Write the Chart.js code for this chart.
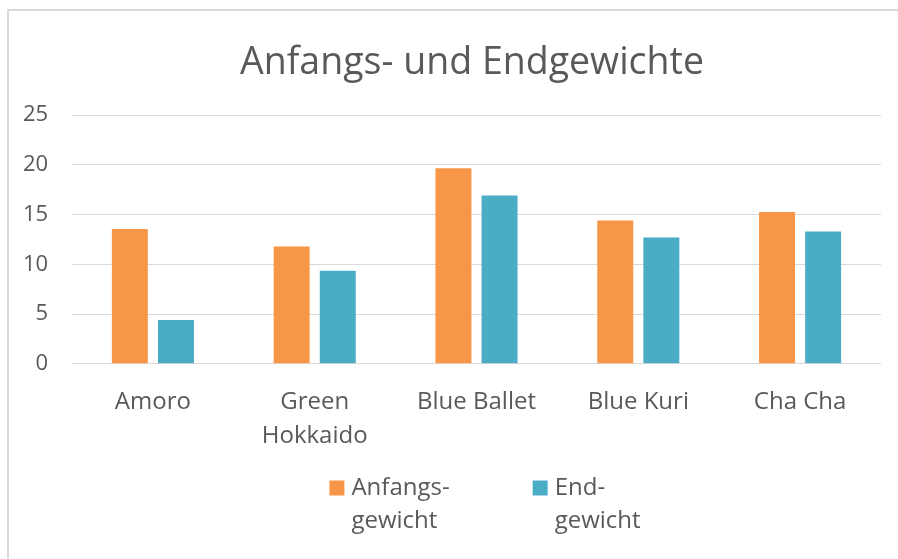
<!DOCTYPE html>
<html>
<head>
<meta charset="utf-8">
<script src="https://cdn.jsdelivr.net/npm/chart.js@4/dist/chart.umd.min.js"></script>
<style>
  html, body { margin: 0; padding: 0; background: #fff; overflow: hidden; }
  #wrap { position: relative; width: 898px; height: 559px; overflow: hidden; }
  #chart { position: absolute; left: 0; top: 0; }
  #frame { position: absolute; left: 7px; top: 9px; width: 1000px; height: 1000px;
           border: 2px solid #d9d9d9; pointer-events: none; }
</style>
</head>
<body>
<div id="wrap">
  <canvas id="chart" width="898" height="559"></canvas>
  <div id="frame"></div>
</div>
<script>
var categories = [["Amoro"], ["Green", "Hokkaido"], ["Blue Ballet"], ["Blue Kuri"], ["Cha Cha"]];
var anfangsgewicht = [13.55, 11.8, 19.65, 14.4, 15.25];
var endgewicht = [4.4, 9.35, 16.9, 12.7, 13.3];
var seriesNames = [["Anfangs-", "gewicht"], ["End-", "gewicht"]];
var yTicks = [0, 5, 10, 15, 20, 25];

var textColor = "#595959";
var fontFamily = "'Open Sans', sans-serif";

// legend drawn by hand so the items can sit far apart like in Excel
var excelLegend = {
  id: "excelLegend",
  afterDraw: function (chart) {
    var ctx = chart.ctx;
    var sets = chart.data.datasets;
    var size = 24, box = 15, gap = 7, space = 83, lineH = 33;
    ctx.save();
    ctx.font = size + "px " + fontFamily;
    var widths = sets.map(function (ds) {
      return Math.max.apply(null, ds.label.map(function (t) { return ctx.measureText(t).width; }));
    });
    var total = 0;
    widths.forEach(function (w, i) { total += box + gap + w + (i ? space : 0); });
    var x = 485 - total / 2;
    var y = 488;
    sets.forEach(function (ds, i) {
      ctx.fillStyle = ds.backgroundColor;
      ctx.fillRect(x, y - box / 2, box, box);
      ctx.fillStyle = textColor;
      ctx.textBaseline = "middle";
      ctx.textAlign = "left";
      ds.label.forEach(function (t, j) {
        ctx.fillText(t, x + box + gap, y + j * lineH);
      });
      x += box + gap + widths[i] + space;
    });
    ctx.restore();
  }
};

var ctx = document.getElementById("chart").getContext("2d");
var chart = new Chart(ctx, {
  type: "bar",
  data: {
    labels: categories,
    datasets: [
      {
        label: seriesNames[0],
        data: anfangsgewicht,
        backgroundColor: "#F79646",
        barPercentage: 0.78,
        categoryPercentage: 0.57,
      },
      {
        label: seriesNames[1],
        data: endgewicht,
        backgroundColor: "#4BACC6",
        barPercentage: 0.78,
        categoryPercentage: 0.57,
      },
    ],
  },
  options: {
    responsive: false,
    animation: false,
    layout: {
      padding: { left: 63, right: 17, top: 0, bottom: 93 },
    },
    plugins: {
      legend: { display: false },
      tooltip: { enabled: false },
      title: {
        display: true,
        text: "Anfangs- und Endgewichte",
        color: textColor,
        font: { family: fontFamily, size: 37.5, weight: "normal" },
        padding: { top: 41, bottom: 29 },
      },
    },
    scales: {
      x: {
        grid: { display: false },
        border: { display: false },
        ticks: {
          color: textColor,
          padding: 13,
          maxRotation: 0,
          autoSkip: false,
          font: { family: fontFamily, size: 24, lineHeight: 1.42 },
        },
      },
      y: {
        min: 0,
        max: 25,
        afterBuildTicks: function (axis) {
          axis.ticks = yTicks.map(function (v) { return { value: v }; });
        },
        // narrow axis box, labels mirrored back out to the left so the title stays centred like Excel
        afterFit: function (axis) {
          axis.width = 9;
        },
        grid: { color: "#d9d9d9", lineWidth: 1, drawTicks: false },
        border: { display: false },
        ticks: {
          color: textColor,
          mirror: true,
          crossAlign: "far",
          padding: -49,
          font: { family: fontFamily, size: 22 },
        },
      },
    },
  },
  plugins: [excelLegend],
});
</script>
</body>
</html>
